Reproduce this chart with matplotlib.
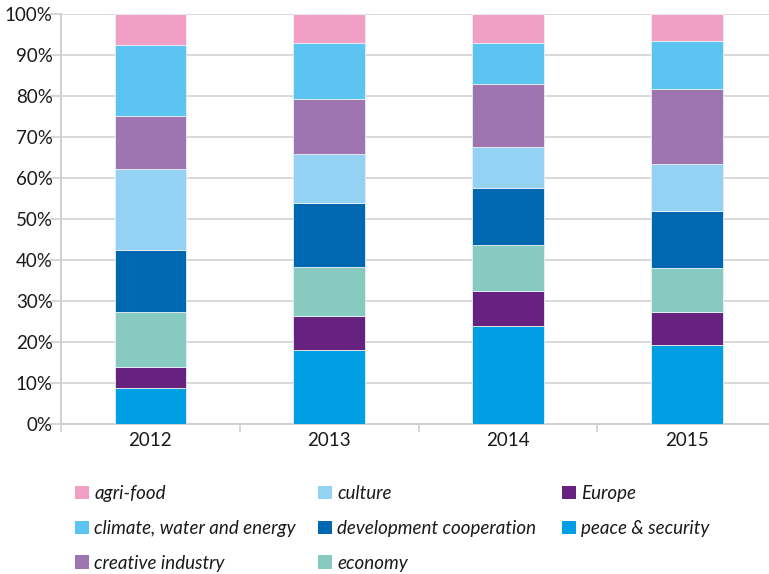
import matplotlib
matplotlib.use("Agg")
import matplotlib.pyplot as plt
import numpy as np
from matplotlib.patches import Patch

years = ["2012", "2013", "2014", "2015"]
# stacked bottom -> top
series_names = ["peace & security", "Europe", "economy", "development cooperation",
                "culture", "creative industry", "climate, water and energy", "agri-food"]
peace = [8.8, 18.0, 23.9, 19.3]
europe = [5.1, 8.3, 8.5, 8.0]
economy = [13.4, 12.0, 11.3, 10.7]
development = [15.1, 15.6, 13.9, 14.0]
culture = [19.8, 12.0, 10.0, 11.4]
creative = [12.9, 13.4, 15.3, 18.3]
climate = [17.3, 13.6, 10.0, 11.7]
agrifood = [7.6, 7.1, 7.1, 6.6]

colors = {
    "peace & security": "#009FE3",
    "Europe": "#67217F",
    "economy": "#86CAC0",
    "development cooperation": "#0067B1",
    "culture": "#94D2F4",
    "creative industry": "#9E75B0",
    "climate, water and energy": "#5BC4F1",
    "agri-food": "#F29FC5",
}
data = [peace, europe, economy, development, culture, creative, climate, agrifood]

fig = plt.figure(figsize=(7.69, 5.74), dpi=100)
ax = fig.add_axes([0.0793, 0.2613, 0.93, 0.7143])

x = np.arange(len(years))
bottom = np.zeros(len(years))
for name, vals in zip(series_names, data):
    ax.bar(x, vals, width=0.4, bottom=bottom, color=colors[name],
           edgecolor="#e6f0f8", linewidth=0.6, zorder=3)
    bottom += np.array(vals)

tick_font = ["Lato", "DejaVu Sans"]
ax.set_xlim(-0.5, len(years) - 0.5)
ax.set_ylim(0, 100)
ax.set_yticks(np.arange(0, 101, 10))
ax.set_yticklabels([f"{v}%" for v in range(0, 101, 10)], fontsize=13.5, family=tick_font, color="#1a1a1a")
ax.set_xticks(x)
ax.set_xticklabels(years, fontsize=13.5, family=tick_font, color="#1a1a1a")
ax.set_xticks(np.arange(-0.5, len(years)), minor=True)
ax.tick_params(axis="x", which="major", length=0, pad=6)
ax.tick_params(axis="x", which="minor", length=6, color="#d0d0d0", width=1.2)
ax.tick_params(axis="y", length=8, color="#d0d0d0", width=1.2, pad=-2)
ax.yaxis.grid(True, color="#d9d9d9", linewidth=1.4, zorder=0)
ax.set_axisbelow(True)
for s in ["top", "right"]:
    ax.spines[s].set_visible(False)
for s in ["left", "bottom"]:
    ax.spines[s].set_color("#d0d0d0")
    ax.spines[s].set_linewidth(1.4)

legend_columns = [
    ["agri-food", "climate, water and energy", "creative industry"],
    ["culture", "development cooperation", "economy"],
    ["Europe", "peace & security"],
]
col_x = [75 / 769, 318 / 769, 562 / 769]
leg_prop = {"family": ["Lato", "DejaVu Sans"], "style": "italic", "size": 13.5}
for names, cx in zip(legend_columns, col_x):
    handles = [Patch(facecolor=colors[n], edgecolor="none", label=n) for n in names]
    leg = fig.legend(handles=handles, loc="upper left", bbox_to_anchor=(cx, 0.155),
                     frameon=False, handlelength=0.72, handleheight=0.72,
                     handletextpad=0.3, labelspacing=0.95, borderpad=0,
                     borderaxespad=0, prop=leg_prop)
    for t in leg.get_texts():
        t.set_color("#1a1a1a")

fig.savefig("out.png", dpi=100)
